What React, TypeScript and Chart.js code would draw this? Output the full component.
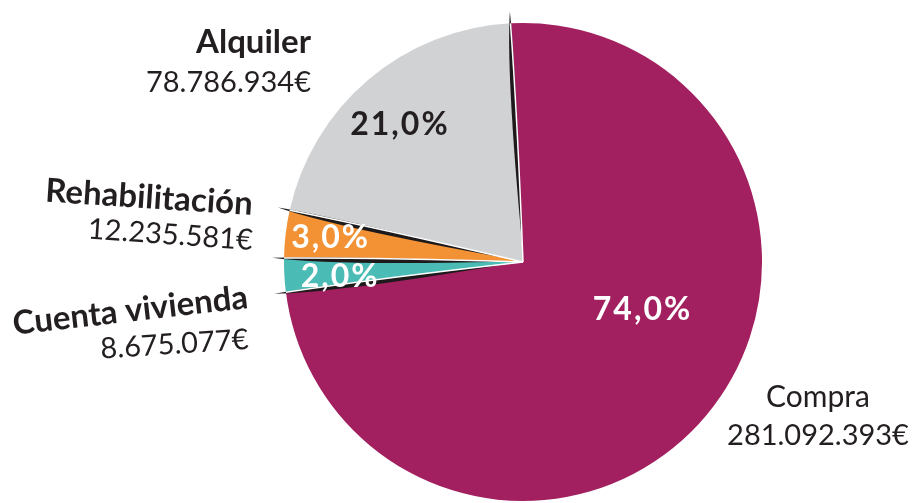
import React, { useEffect, useRef } from "react";
import { Chart, registerables } from "chart.js";

Chart.register(...registerables);

// ---- data ----
const categories = ["Compra", "Cuenta vivienda", "Rehabilitación", "Alquiler"];
const amounts = [281092393, 8675077, 12235581, 78786934];
const amountLabels = ["281.092.393€", "8.675.077€", "12.235.581€", "78.786.934€"];
const percentLabels = ["74,0%", "2,0%", "3,0%", "21,0%"];

// ---- style ----
const sliceColors = ["#A22060", "#4ABCB5", "#F29234", "#D1D2D4"];
const percentColors = ["#FFFFFF", "#FFFFFF", "#FFFFFF", "#231F20"];
const TEXT = "#231F20";
const FONT = "Lato, 'Open Sans', sans-serif";

// percent label offsets, in units of the pie radius from its centre
const percentPos = [
  [0.5, 0.2],
  [-0.765, 0.06],
  [-0.805, -0.1],
  [-0.515, -0.575],
];

// outside label layout (canvas px): anchor, alignment, rotation (deg)
const outerLayout = [
  { x: 818, y1: 407, y2: 445, align: "center", rot1: 0, rot2: 0, bold: false },
  { x: 249, y1: 308, y2: 349, align: "right", rot1: -6.5, rot2: -3.7, bold: true },
  { x: 252, y1: 215, y2: 250, align: "right", rot1: 3.7, rot2: 4, bold: true },
  { x: 311, y1: 53, y2: 92, align: "right", rot1: 0, rot2: 0, bold: true },
];

const labelPlugin = {
  id: "labels",
  afterDatasetsDraw(chart: any) {
    const ctx = chart.ctx as CanvasRenderingContext2D;
    const meta = chart.getDatasetMeta(0);
    const first = meta.data[0].getProps(["x", "y", "outerRadius"], true);
    const cx = first.x, cy = first.y, R = first.outerRadius;

    // dark slivers along slice boundaries
    meta.data.forEach((arc: any) => {
      const p = arc.getProps(["startAngle"], true);
      const a = p.startAngle;
      const ux = Math.cos(a), uy = Math.sin(a);
      const nx = -uy, ny = ux;
      const P = (t: number, s: number) => [cx + ux * R * t + nx * s, cy + uy * R * t + ny * s];
      ctx.save();
      ctx.fillStyle = "#1E1A1B";
      ctx.beginPath();
      let q = P(0.08, 0);
      ctx.moveTo(q[0], q[1]);
      let c1 = P(0.8, -7);
      let e = P(1.05, 0);
      ctx.quadraticCurveTo(c1[0], c1[1], e[0], e[1]);
      c1 = P(0.8, 3);
      ctx.quadraticCurveTo(c1[0], c1[1], q[0], q[1]);
      ctx.fill();
      ctx.strokeStyle = "#FFFFFF";
      ctx.lineWidth = 1.5;
      ctx.beginPath();
      q = P(0, 0);
      ctx.moveTo(q[0], q[1]);
      c1 = P(0.6, 2);
      e = P(1, 0);
      ctx.quadraticCurveTo(c1[0], c1[1], e[0], e[1]);
      ctx.stroke();
      ctx.restore();
    });

    // percentage labels
    percentLabels.forEach((t, i) => {
      const [dx, dy] = percentPos[i];
      ctx.save();
      ctx.font = `bold 32px ${FONT}`;
      (ctx as any).letterSpacing = "2px";
      ctx.fillStyle = percentColors[i];
      ctx.textAlign = "center";
      ctx.textBaseline = "middle";
      ctx.fillText(t, cx + dx * R, cy + dy * R);
      ctx.restore();
    });

    // outside labels
    categories.forEach((name, i) => {
      const L = outerLayout[i];
      const draw = (text: string, y: number, rot: number, font: string) => {
        ctx.save();
        ctx.translate(L.x, y);
        ctx.rotate((rot * Math.PI) / 180);
        ctx.font = font;
        ctx.fillStyle = TEXT;
        ctx.textAlign = L.align as CanvasTextAlign;
        ctx.textBaseline = "alphabetic";
        ctx.fillText(text, 0, 0);
        ctx.restore();
      };
      draw(name, L.y1, L.rot1, `${L.bold ? "bold 33px" : "30px"} ${FONT}`);
      draw(amountLabels[i], L.y2, L.rot2, `29px ${FONT}`);
    });
  },
};

export default function App() {
  const ref = useRef<HTMLCanvasElement | null>(null);
  useEffect(() => {
    if (!ref.current) return;
    const chart = new Chart(ref.current, {
      type: "pie",
      data: {
        labels: categories,
        datasets: [
          {
            data: amounts,
            backgroundColor: sliceColors,
            borderColor: "#FFFFFF",
            borderWidth: 0,
          },
        ],
      },
      options: {
        responsive: false,
        animation: false,
        rotation: -3,
        layout: { padding: { left: 240, right: 110, top: 23, bottom: 39 } },
        plugins: {
          legend: { display: false },
          tooltip: { enabled: false },
        },
      },
      plugins: [labelPlugin],
    });
    return () => chart.destroy();
  }, []);
  return (
    <div style={{ position: "absolute", left: 0, top: 0, width: 916, height: 540 }}>
      <canvas ref={ref} width={916} height={540} style={{ display: "block" }} />
    </div>
  );
}
